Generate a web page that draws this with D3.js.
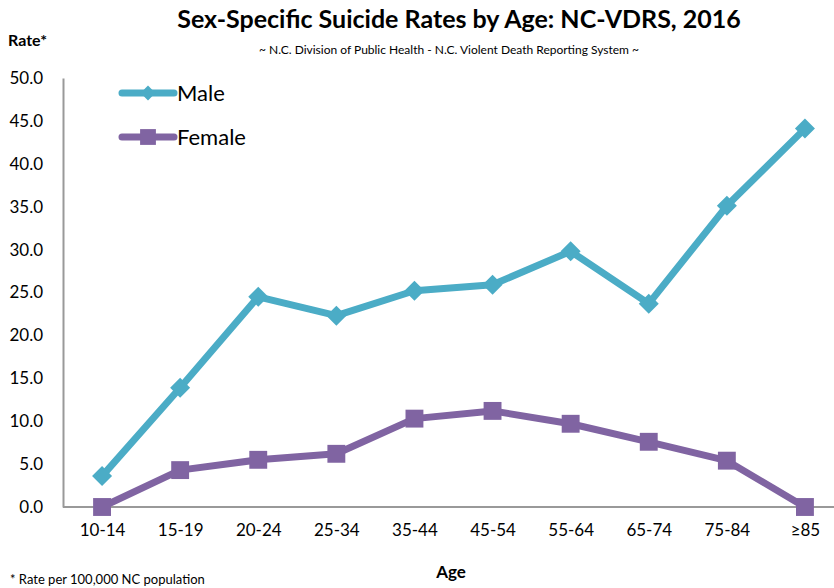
<!DOCTYPE html>
<html>
<head>
<meta charset="utf-8">
<script src="https://cdn.jsdelivr.net/npm/d3@7"></script>
<style>
  body { margin: 0; background: #fff; }
  text { font-family: Lato, "Open Sans", sans-serif; fill: #000; }
</style>
</head>
<body>
<div id="chart"></div>
<script>
const ages = ["10-14", "15-19", "20-24", "25-34", "35-44", "45-54", "55-64", "65-74", "75-84", "≥85"];
const male = [3.6, 13.9, 24.5, 22.3, 25.2, 25.9, 29.8, 23.7, 35.1, 44.1];
const female = [0.0, 4.3, 5.5, 6.2, 10.3, 11.2, 9.7, 7.6, 5.4, 0.0];
const yTicks = [0, 5, 10, 15, 20, 25, 30, 35, 40, 45, 50];

const W = 834, H = 588;
const plotLeft = 63, plotRight = 844, plotTop = 78, plotBottom = 507;

const svg = d3.select('#chart').append('svg')
  .attr('width', W)
  .attr('height', H);

const x = d3.scalePoint().domain(ages).range([plotLeft, plotRight]).padding(0.5);
const y = d3.scaleLinear().domain([0, 50]).range([plotBottom, plotTop]);

// axes
const yAxis = svg.append('g')
  .attr('transform', `translate(${plotLeft},0)`)
  .call(d3.axisLeft(y).tickValues(yTicks).tickSize(0).tickPadding(20).tickFormat(d3.format('.1f')));
yAxis.select('.domain').attr('stroke', '#999').attr('stroke-width', 2);
yAxis.selectAll('text').attr('font-size', 17);

const xAxis = svg.append('g')
  .attr('transform', `translate(0,${plotBottom})`)
  .call(d3.axisBottom(x).tickSize(0).tickPadding(17));
xAxis.select('.domain').attr('stroke', '#999').attr('stroke-width', 2).attr('d', `M${plotLeft},0H${W}`);
xAxis.selectAll('text').attr('font-size', 17);

// series (diamond = square turned 45deg)
const series = [
  { name: "Male", values: male, color: "#4BACC6", size: 200, rot: 45 },
  { name: "Female", values: female, color: "#8064A2", size: 320, rot: 0 }
];

const line = d3.line().x((d, i) => x(ages[i])).y(d => y(d));
const marker = d3.symbol().type(d3.symbolSquare);

series.forEach(s => {
  svg.append('path')
    .attr('d', line(s.values))
    .attr('fill', 'none')
    .attr('stroke', s.color)
    .attr('stroke-width', 7)
    .attr('stroke-linejoin', 'round');
  svg.selectAll(null)
    .data(s.values)
    .enter().append('path')
    .attr('d', marker.size(s.size)())
    .attr('transform', (d, i) => `translate(${x(ages[i])},${y(d)}) rotate(${s.rot})`)
    .attr('fill', s.color);
});

// legend
const legend = svg.append('g');
series.forEach((s, i) => {
  const ly = 93 + i * 44;
  legend.append('line')
    .attr('x1', 122).attr('x2', 174).attr('y1', ly).attr('y2', ly)
    .attr('stroke', s.color).attr('stroke-width', 7).attr('stroke-linecap', 'round');
  legend.append('path')
    .attr('d', marker.size(s.rot ? 110 : 250)())
    .attr('transform', `translate(148,${ly}) rotate(${s.rot})`)
    .attr('fill', s.color);
  legend.append('text')
    .attr('x', 177).attr('y', ly + 8)
    .attr('font-size', 22)
    .text(s.name);
});

// titles
svg.append('text')
  .attr('x', 459).attr('y', 28)
  .attr('text-anchor', 'middle')
  .attr('font-size', 25).attr('font-weight', 'bold')
  .text('Sex-Specific Suicide Rates by Age: NC-VDRS, 2016');

svg.append('text')
  .attr('x', 449).attr('y', 54)
  .attr('text-anchor', 'middle')
  .attr('font-size', 12)
  .text('~ N.C. Division of Public Health - N.C. Violent Death Reporting System ~');

svg.append('text')
  .attr('x', 8).attr('y', 46)
  .attr('font-size', 16).attr('font-weight', 'bold')
  .text('Rate*');

svg.append('text')
  .attr('x', 451).attr('y', 578)
  .attr('text-anchor', 'middle')
  .attr('font-size', 17).attr('font-weight', 'bold')
  .text('Age');

svg.append('text')
  .attr('x', 10).attr('y', 584)
  .attr('font-size', 13)
  .text('* Rate per 100,000 NC population');
</script>
</body>
</html>
